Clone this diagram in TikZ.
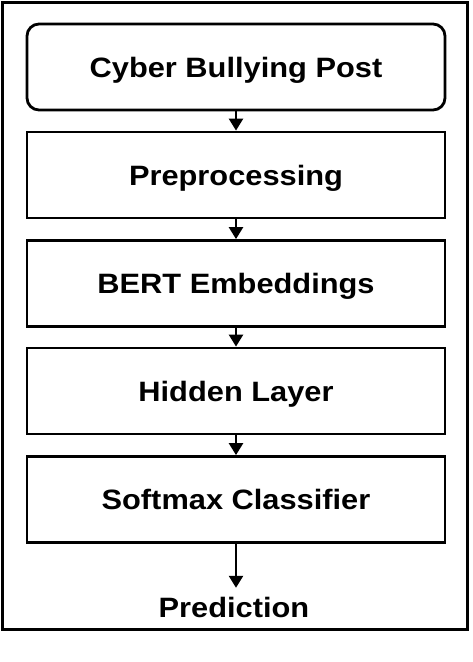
\documentclass[tikz,border=0pt]{standalone}
\usepackage{fontspec}
\setmainfont{Liberation Sans}
\newfontfamily\boxfont[FakeStretch=1.1]{Liberation Sans}
\usetikzlibrary{arrows.meta}
\begin{document}
\begin{tikzpicture}[x=1pt,y=-1pt,
  label/.style={font=\boxfont\fontsize{28}{34}\selectfont\bfseries,text height=20pt,text depth=0pt},
  stepbox/.style={label,draw,line width=2.8pt,minimum width=418pt,minimum height=86pt,inner sep=0pt},
  flow/.style={line width=2.5pt,-{Triangle[width=14pt,length=12pt]}}]
\useasboundingbox (0,0) rectangle (472,662);
\draw[line width=3pt] (2,2) rectangle (467,629);
\node[stepbox,rounded corners=12pt] (post) at (236,67) {Cyber Bullying Post};
\node[stepbox] (pre) at (236,175) {Preprocessing};
\node[stepbox] (bert) at (236,283.5) {BERT Embeddings};
\node[stepbox] (hid) at (236,391) {Hidden Layer};
\node[stepbox] (soft) at (236,499.5) {Softmax Classifier};
\node[label,inner sep=0pt] (pred) at (234,607) {Prediction};
\coordinate (predtop) at ([yshift=9pt]pred.north -| soft.south);
\draw[flow] (post) -- (pre);
\draw[flow] (pre) -- (bert);
\draw[flow] (bert) -- (hid);
\draw[flow] (hid) -- (soft);
\draw[flow] (soft.south) -- (predtop);
\end{tikzpicture}
\end{document}
